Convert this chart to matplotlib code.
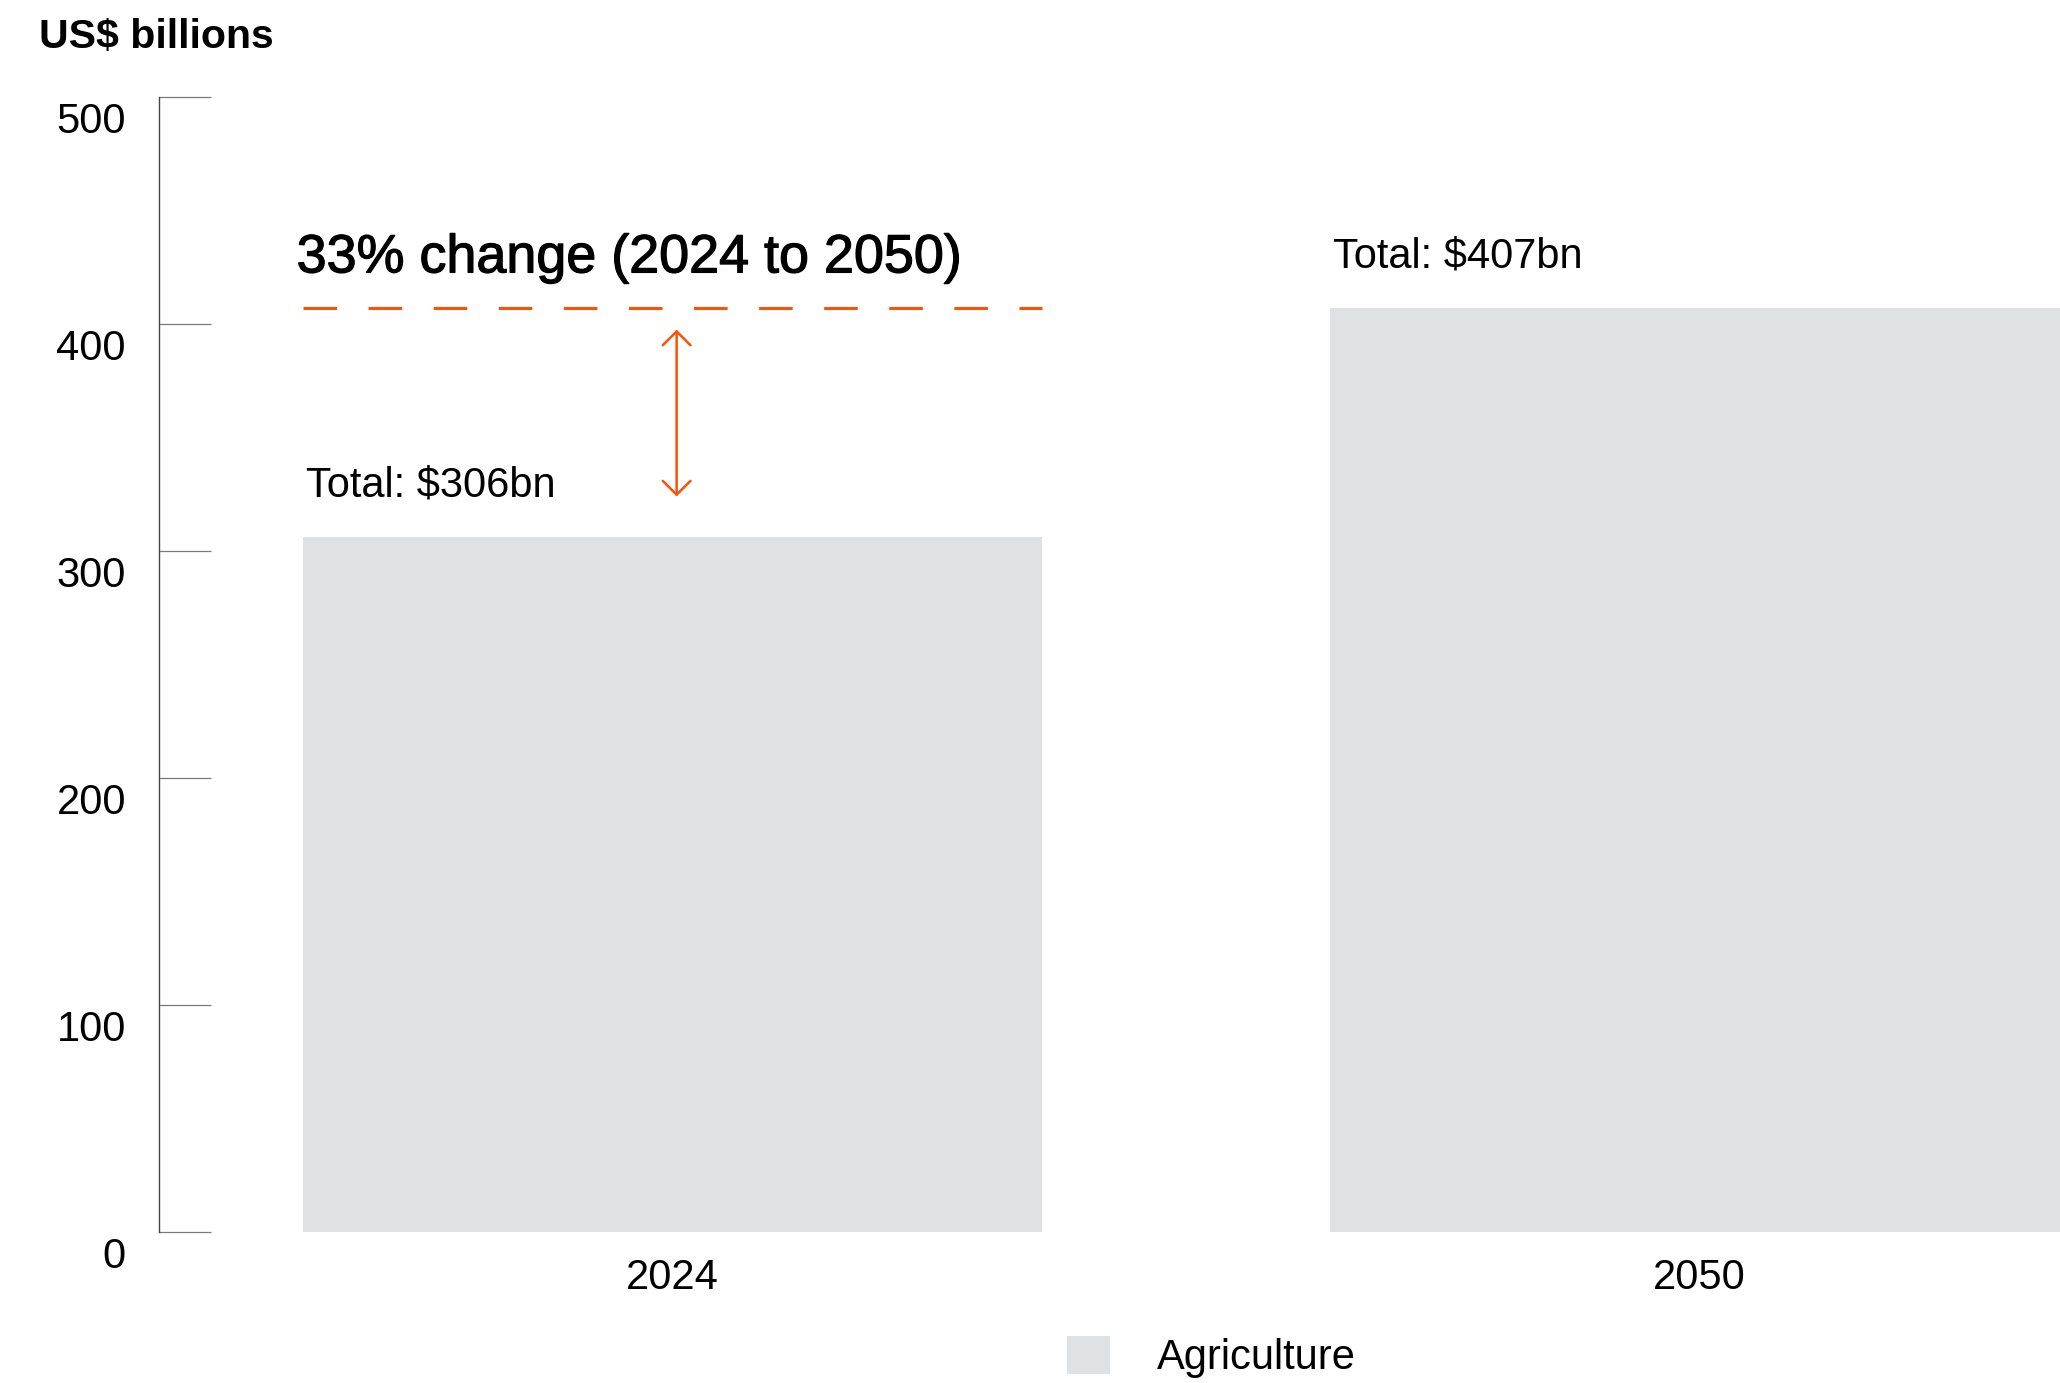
import matplotlib
import matplotlib.pyplot as plt
import matplotlib.patheffects as pe
from matplotlib.transforms import ScaledTranslation

matplotlib.use('Agg')

years = ["2024", "2050"]
totals = [306, 407]
total_labels = ["Total: $306bn", "Total: $407bn"]
series_name = "Agriculture"
change_label = "33% change (2024 to 2050)"
y_ticks = [0, 100, 200, 300, 400, 500]

bar_color = "#dfe2e5"
accent = "#fd5108"
bar_width = 0.72

plt.rcParams['font.family'] = ['Liberation Sans', 'DejaVu Sans']
plt.rcParams['text.color'] = '#000000'


def plot_totals():
    fig = plt.figure(figsize=(20.6, 13.83), dpi=100)
    ax = fig.add_axes([0.0772, 0.1092, 0.9228, 0.8207])

    positions = list(range(len(years)))
    ax.bar(positions, totals, width=bar_width, color=bar_color,
           label=series_name, zorder=1)

    for pos, value, text in zip(positions, totals, total_labels):
        ax.text(pos - bar_width / 2 + 0.003, value + 18, text,
                fontsize=30, ha='left', va='baseline')

    # dashed reference line at the 2050 level over the 2024 bar
    ax.hlines(totals[1], positions[0] - bar_width / 2, positions[0] + bar_width / 2,
              colors=accent, linewidth=2.2, linestyles=(0, (11.0, 10.3)), zorder=3)
    ax.text(positions[0] - bar_width / 2 - 0.006, 422.7, change_label,
            fontsize=38.8, ha='left', va='baseline',
            path_effects=[pe.withStroke(linewidth=0.9, foreground='black')])
    ax.annotate('', xy=(positions[0] + 0.004, 324), xytext=(positions[0] + 0.004, 397.5),
                arrowprops=dict(arrowstyle='<->,head_length=1.0,head_width=1.0',
                                mutation_scale=10, color=accent, lw=1.8,
                                shrinkA=0, shrinkB=0))

    ax.set_xlim(-0.5, 1.351)
    ax.set_ylim(0, 500)
    ax.set_xticks(positions)
    ax.set_xticklabels(years, fontsize=30)
    ax.tick_params(axis='x', length=0, pad=19)

    ax.set_yticks(y_ticks)
    ax.set_yticklabels([str(t) for t in y_ticks], fontsize=30)
    ax.tick_params(axis='y', direction='in', length=37.4, width=0.9,
                   color='#7a7a7a', pad=23.8)
    shift = ScaledTranslation(0, -0.21, fig.dpi_scale_trans)
    for label in ax.get_yticklabels():
        label.set_transform(label.get_transform() + shift)

    for side in ['top', 'right', 'bottom']:
        ax.spines[side].set_visible(False)
    ax.spines['left'].set_color('#444444')
    ax.spines['left'].set_linewidth(1.0)

    fig.text(0.0189, 0.9653, "US$ billions", fontsize=29.5,
             fontweight='bold', ha='left', va='baseline')

    fig.legend(loc='center', bbox_to_anchor=(0.588, 0.0188), frameon=False,
               fontsize=30, handlelength=1.03, handleheight=1.03,
               handletextpad=1.13, borderpad=0, borderaxespad=0)

    fig.savefig("out.png", dpi=100)


if __name__ == "__main__":
    plot_totals()
